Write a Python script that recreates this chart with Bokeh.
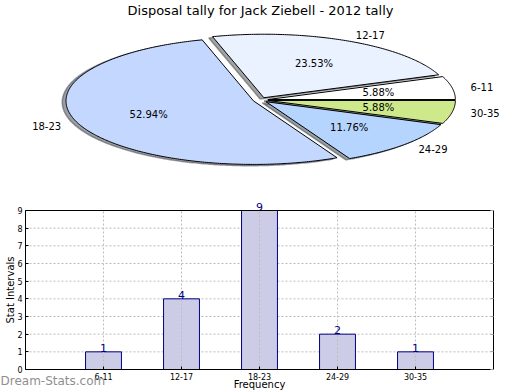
import numpy as np
from bokeh.plotting import figure
from bokeh.models import Range1d, FixedTicker, Label, LinearAxis
from bokeh.core.properties import value
from bokeh.embed import file_html
from bokeh.resources import INLINE

# ---- data ----
title_text = "Disposal tally for Jack Ziebell - 2012 tally"
categories = ["6-11", "12-17", "18-23", "24-29", "30-35"]
counts = [1, 4, 9, 2, 1]
slice_colors = ["#FFFFFF", "#EAF1FF", "#C4D8FF", "#B5D5FF", "#CDE98B"]
y_ticks = list(range(10))
y_label = "Stat Intervals"
x_label = "Frequency"
watermark = "Dream-Stats.com"

# ---- layout constants (pixels) ----
W, H = 520, 390
BOX_L, BOX_R, BOX_T, BOX_B = 25, 493, 210, 369
x_lo, x_hi = -1, len(categories)
y_lo, y_hi = 0, max(y_ticks)
sx = (BOX_R - BOX_L) / (x_hi - x_lo)
sy = (BOX_B - BOX_T) / (y_hi - y_lo)
x_start, x_end = x_lo - BOX_L / sx, x_hi + (W - BOX_R) / sx
y_start, y_end = y_lo - (H - BOX_B) / sy, y_hi + BOX_T / sy

PIE_CX, PIE_CY, PIE_RX, PIE_RY = 260, 99.5, 187.5, 63.5
px_start, px_end = -PIE_CX / PIE_RX, (W - PIE_CX) / PIE_RX
py_start, py_end = (PIE_CY - H) / PIE_RY, PIE_CY / PIE_RY

FONT = value("DejaVu Sans")
explode = 0.04
shadow_dx, shadow_dy = -0.02, -0.02

p = figure(width=W, height=H, x_range=Range1d(x_start, x_end),
           y_range=Range1d(y_start, y_end), output_backend="svg",
           toolbar_location=None, x_axis_location=None, y_axis_location=None,
           min_border=0, outline_line_color=None,
           background_fill_color="white", border_fill_color="white")
p.grid.visible = False
p.extra_x_ranges = {"px": Range1d(px_start, px_end)}
p.extra_y_ranges = {"py": Range1d(py_start, py_end)}

# ---- pie ----
total = float(sum(counts))
fracs = [c / total for c in counts]

def shade(hexcol, f=0.3):
    h = hexcol.lstrip("#")
    r, g, b = (int(h[i:i + 2], 16) for i in (0, 2, 4))
    return "#%02x%02x%02x" % (int(r * f), int(g * f), int(b * f))

wx, wy, shx, shy = [], [], [], []
lab_x, lab_y, lab_align, pct_x, pct_y, pct_text = [], [], [], [], [], []
t1 = 0.0
for fr in fracs:
    t2 = t1 + 360.0 * fr
    m = np.deg2rad((t1 + t2) / 2)
    cx, cy = explode * np.cos(m), explode * np.sin(m)
    a = np.deg2rad(np.linspace(t1, t2, max(3, int((t2 - t1) * 1.5))))
    xs = [cx] + list(cx + np.cos(a))
    ys = [cy] + list(cy + np.sin(a))
    wx.append(xs); wy.append(ys)
    shx.append([v + shadow_dx for v in xs]); shy.append([v + shadow_dy for v in ys])
    lab_x.append(cx + 1.1 * np.cos(m)); lab_y.append(cy + 1.1 * np.sin(m))
    lab_align.append("left" if np.cos(m) > 0 else "right")
    pct_x.append(cx + 0.6 * np.cos(m)); pct_y.append(cy + 0.6 * np.sin(m))
    pct_text.append("%.2f%%" % (fr * 100))
    t1 = t2

PR = dict(x_range_name="px", y_range_name="py")
shadow_cols = [shade(c) for c in slice_colors]
p.patches(xs=shx, ys=shy, fill_color=shadow_cols, fill_alpha=0.5,
          line_color=shadow_cols, line_alpha=0.5, line_width=1.5, **PR)
p.patches(xs=wx, ys=wy, fill_color=slice_colors, line_color="black",
          line_width=1, **PR)
p.text(x=lab_x, y=lab_y, text=categories, text_align=lab_align,
       text_baseline="middle", text_font=FONT, text_font_size="10px",
       text_color="black", **PR)
p.text(x=pct_x, y=pct_y, text=pct_text, text_align="center",
       text_baseline="middle", text_font=FONT, text_font_size="10px",
       text_color="black", **PR)
p.add_layout(Label(x=0, y=(PIE_CY - 9.8) / PIE_RY, text=title_text,
                   text_align="center", text_baseline="middle",
                   text_font="DejaVu Sans", text_font_size="13px",
                   text_color="black", **PR))

# ---- bars ----
idx = list(range(len(categories)))
grid_kw = dict(line_color="#bdbdbd", line_dash="2 2", line_width=1)
# horizontal grid (under bars)
p.segment(x0=[x_lo] * len(y_ticks), x1=[x_hi] * len(y_ticks), y0=y_ticks,
          y1=y_ticks, **grid_kw)
p.vbar(x=idx, top=counts, width=0.46, bottom=0, fill_color="#CCCCE6",
       line_color="#000080", line_width=1)
# vertical grid (over bars)
p.segment(x0=idx, x1=idx, y0=[y_lo] * len(idx), y1=[y_hi] * len(idx), **grid_kw)
p.text(x=idx, y=counts, text=[str(c) for c in counts], text_align="center",
       text_baseline="bottom", text_font=FONT, text_font_size="11px",
       text_color="#000080")

def make_axis(loc, ticker, bounds, labels=True, tick_color="black"):
    ax = LinearAxis(fixed_location=loc, ticker=FixedTicker(ticks=ticker),
                    bounds=bounds, axis_line_color="black", axis_line_width=1,
                    major_tick_in=3, major_tick_out=0,
                    major_tick_line_color=tick_color,
                    minor_tick_line_color=None,
                    major_label_text_font="DejaVu Sans",
                    major_label_text_font_size="8px" if labels else "0px",
                    major_label_text_color="black", major_label_standoff=3)
    if not labels:
        ax.major_label_overrides = {t: "" for t in ticker}
    return ax

xb = make_axis(y_lo, idx, (x_lo, x_hi))
xb.major_label_overrides = {i: c for i, c in zip(idx, categories)}
p.add_layout(xb, "below")
yl = make_axis(x_lo, y_ticks, (y_lo, y_hi))
p.add_layout(yl, "left")
xt = make_axis(y_hi, idx, (x_lo, x_hi), labels=False, tick_color=None)
p.add_layout(xt, "above")
yr = make_axis(x_hi, y_ticks, (y_lo, y_hi), labels=False, tick_color="#a8a8a8")
p.add_layout(yr, "right")

p.add_layout(Label(x=x_lo - (BOX_L - 9.5) / sx, y=(y_lo + y_hi) / 2,
                   text=y_label, angle=np.pi / 2, text_align="center",
                   text_baseline="middle", text_font="DejaVu Sans",
                   text_font_size="10px", text_color="black"))
p.add_layout(Label(x=(x_lo + x_hi) / 2, y=y_lo - (383.8 - BOX_B) / sy,
                   text=x_label, text_align="center",
                   text_baseline="middle", text_font="DejaVu Sans",
                   text_font_size="10px", text_color="black"))
p.add_layout(Label(x=x_start, y=y_lo - (380.9 - BOX_B) / sy, text=watermark,
                   text_align="left", text_baseline="middle",
                   text_font="DejaVu Sans", text_font_size="12px",
                   text_color="#8f8f8f"))

open("out.html", "w").write(file_html(p, INLINE))
